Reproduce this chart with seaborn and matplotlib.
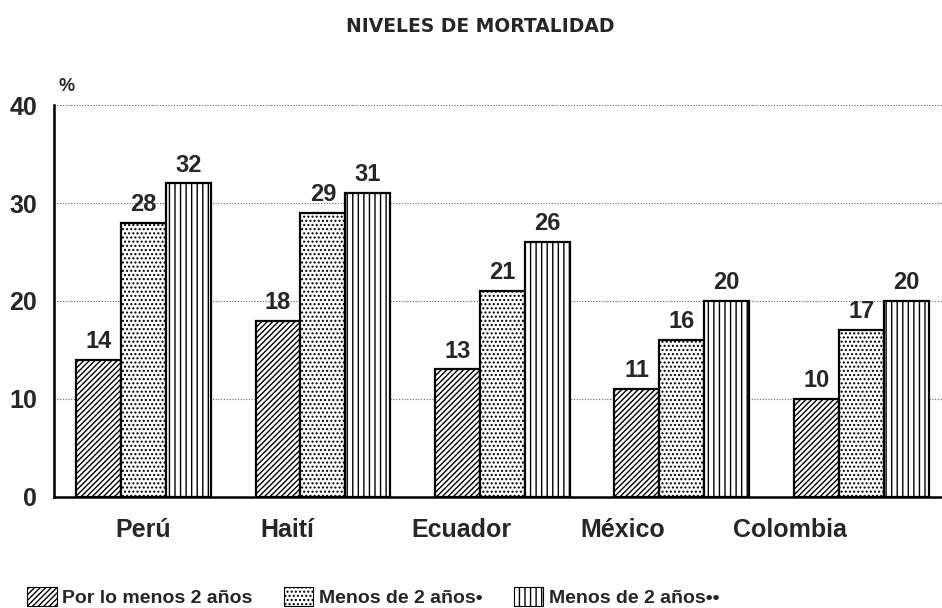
import numpy as np
import pandas as pd
import matplotlib
matplotlib.use("Agg")
import matplotlib.pyplot as plt
import seaborn as sns

paises = ["Perú", "Haití", "Ecuador", "México", "Colombia"]
series = ["Por lo menos 2 años", "Menos de 2 años•", "Menos de 2 años••"]
por_lo_menos_2 = [14, 18, 13, 11, 10]
menos_2_a = [28, 29, 21, 16, 17]
menos_2_b = [32, 31, 26, 20, 20]

valores = [por_lo_menos_2, menos_2_a, menos_2_b]
df = pd.DataFrame({
    "pais": np.tile(paises, 3),
    "serie": np.repeat(series, len(paises)),
    "valor": np.concatenate(valores),
})

sns.set_style("white")
plt.rcParams["font.family"] = ["Liberation Sans", "DejaVu Sans"]
plt.rcParams["hatch.linewidth"] = 1.0

fig = plt.figure(figsize=(9.42, 6.08), dpi=100)
ax = fig.add_axes([0.057, 0.183, 0.943, 0.644])

sns.barplot(data=df, x="pais", y="valor", hue="serie", order=paises,
            hue_order=series, palette=["white"] * 3, width=0.75,
            edgecolor="black", linewidth=1.6, saturation=1, ax=ax, legend=False)

hatches = ["//////", "....", "|||"]
for cont, h in zip(ax.containers, hatches):
    for bar in cont:
        bar.set_hatch(h)
    ax.bar_label(cont, labels=[str(int(v)) for v in cont.datavalues],
                 padding=5, fontsize=17, fontweight="bold")

ax.set_ylim(0, 40)
ax.set_xlim(-0.5, 4.45)
ax.set_yticks([0, 10, 20, 30, 40])
ax.yaxis.grid(True, linestyle=(0, (1, 1.5)), color="#666666", linewidth=0.8)
ax.set_axisbelow(True)
for s in ["top", "right"]:
    ax.spines[s].set_visible(False)
for s in ["left", "bottom"]:
    ax.spines[s].set_color("black")
    ax.spines[s].set_linewidth(1.8)

# etiquetas del eje x algo corridas a la izquierda como en el original
desplaz = [0.0, -0.2, -0.23, -0.33, -0.4]
ax.set_xticks(np.arange(len(paises)) + np.array(desplaz))
ax.set_xticklabels(paises, fontsize=18, fontweight="bold")
ax.tick_params(axis="x", length=0, pad=15)
ax.tick_params(axis="y", length=0, pad=12, labelsize=18)
for t in ax.get_yticklabels():
    t.set_fontweight("bold")
ax.set_xlabel("")
ax.set_ylabel("")
ax.text(0.005, 1.035, "%", transform=ax.transAxes, fontsize=13, fontweight="bold")

fig.text(0.51, 0.948, "NIVELES DE MORTALIDAD", ha="center", fontsize=13.5,
         fontweight="bold", family="DejaVu Sans")

handles = [plt.Rectangle((0, 0), 1, 1, facecolor="white", edgecolor="black",
                         hatch=h, linewidth=0.8) for h in hatches]
fig.legend(handles, series, loc="lower left", bbox_to_anchor=(0.025, -0.005),
           ncol=3, frameon=False, handlelength=1.5, handleheight=1.1,
           handletextpad=0.3, columnspacing=1.6, borderpad=0.2,
           borderaxespad=0.0, prop={"weight": "bold", "size": 14})

fig.savefig("out.png", dpi=100, facecolor="white")
